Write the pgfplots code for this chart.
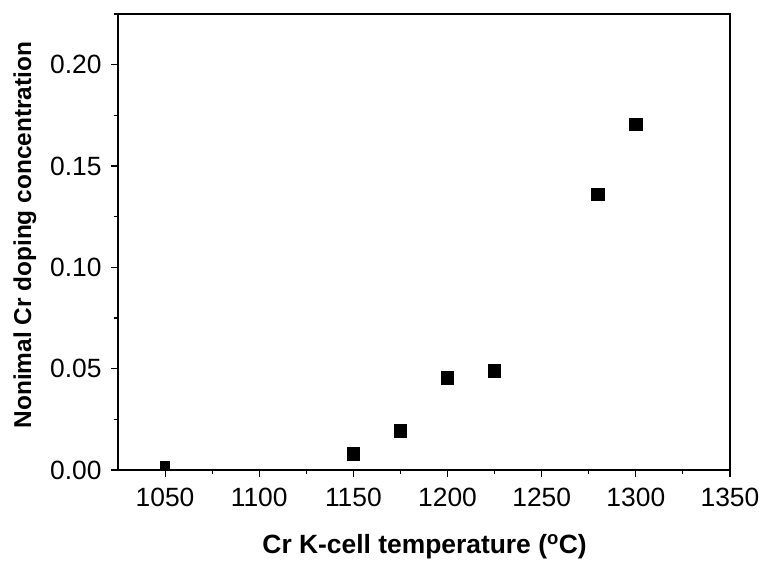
\documentclass[border=0pt]{standalone}
\usepackage{fontspec}
\setmainfont{Liberation Sans}
\usepackage{pgfplots}
\pgfplotsset{compat=1.18}
\begin{document}
\begin{tikzpicture}
\begin{axis}[
  scale only axis,
  width=612bp, height=456bp,
  xmin=1025, xmax=1350, ymin=0, ymax=0.225,
  xtick={1050,1100,...,1350},
  minor xtick={1075,1125,...,1325},
  ytick={0,0.05,...,0.2},
  minor ytick={0.025,0.075,...,0.225},
  xtick pos=bottom, ytick pos=left,
  tick align=outside,
  major tick length=7bp, minor tick length=4bp,
  tick style={black, line width=1.1bp},
  axis line style={line width=1.2bp},
  ticklabel style={font=\fontsize{26.5}{30}\selectfont},
  yticklabel style={/pgf/number format/fixed, /pgf/number format/fixed zerofill, /pgf/number format/precision=2, xshift=-6bp},
  /pgf/number format/assume math mode=true,
  scaled y ticks=false,
  xticklabel style={/pgf/number format/1000 sep={}, yshift=-8bp},
  xlabel={\fontsize{26.5}{30}\selectfont\bfseries Cr K-cell temperature (\textsuperscript{o}C)},
  ylabel={\fontsize{24.5}{30}\selectfont\bfseries Nonimal Cr doping concentration},
  xlabel style={at={(axis description cs:0.501,-0.169)}, anchor=center},
  ylabel style={at={(axis description cs:-0.152,0.515)}, anchor=center},
  clip=false,
]
\addplot[only marks, mark=square*, mark size=4.8bp, mark options={fill=black, draw=black, line width=0pt}] coordinates {
(1050,0.0020)
};
\addplot[only marks, mark=square*, mark size=6.2bp, mark options={fill=black, draw=black, line width=0pt}] coordinates {
(1150,0.0079) (1175,0.0193) (1200,0.0454) (1225,0.0489) (1280,0.1358) (1300,0.1704)
};
\end{axis}
\path (current axis.south west) ++(-118bp,-93bp) rectangle ++(765bp,563bp);
\end{tikzpicture}
\end{document}
